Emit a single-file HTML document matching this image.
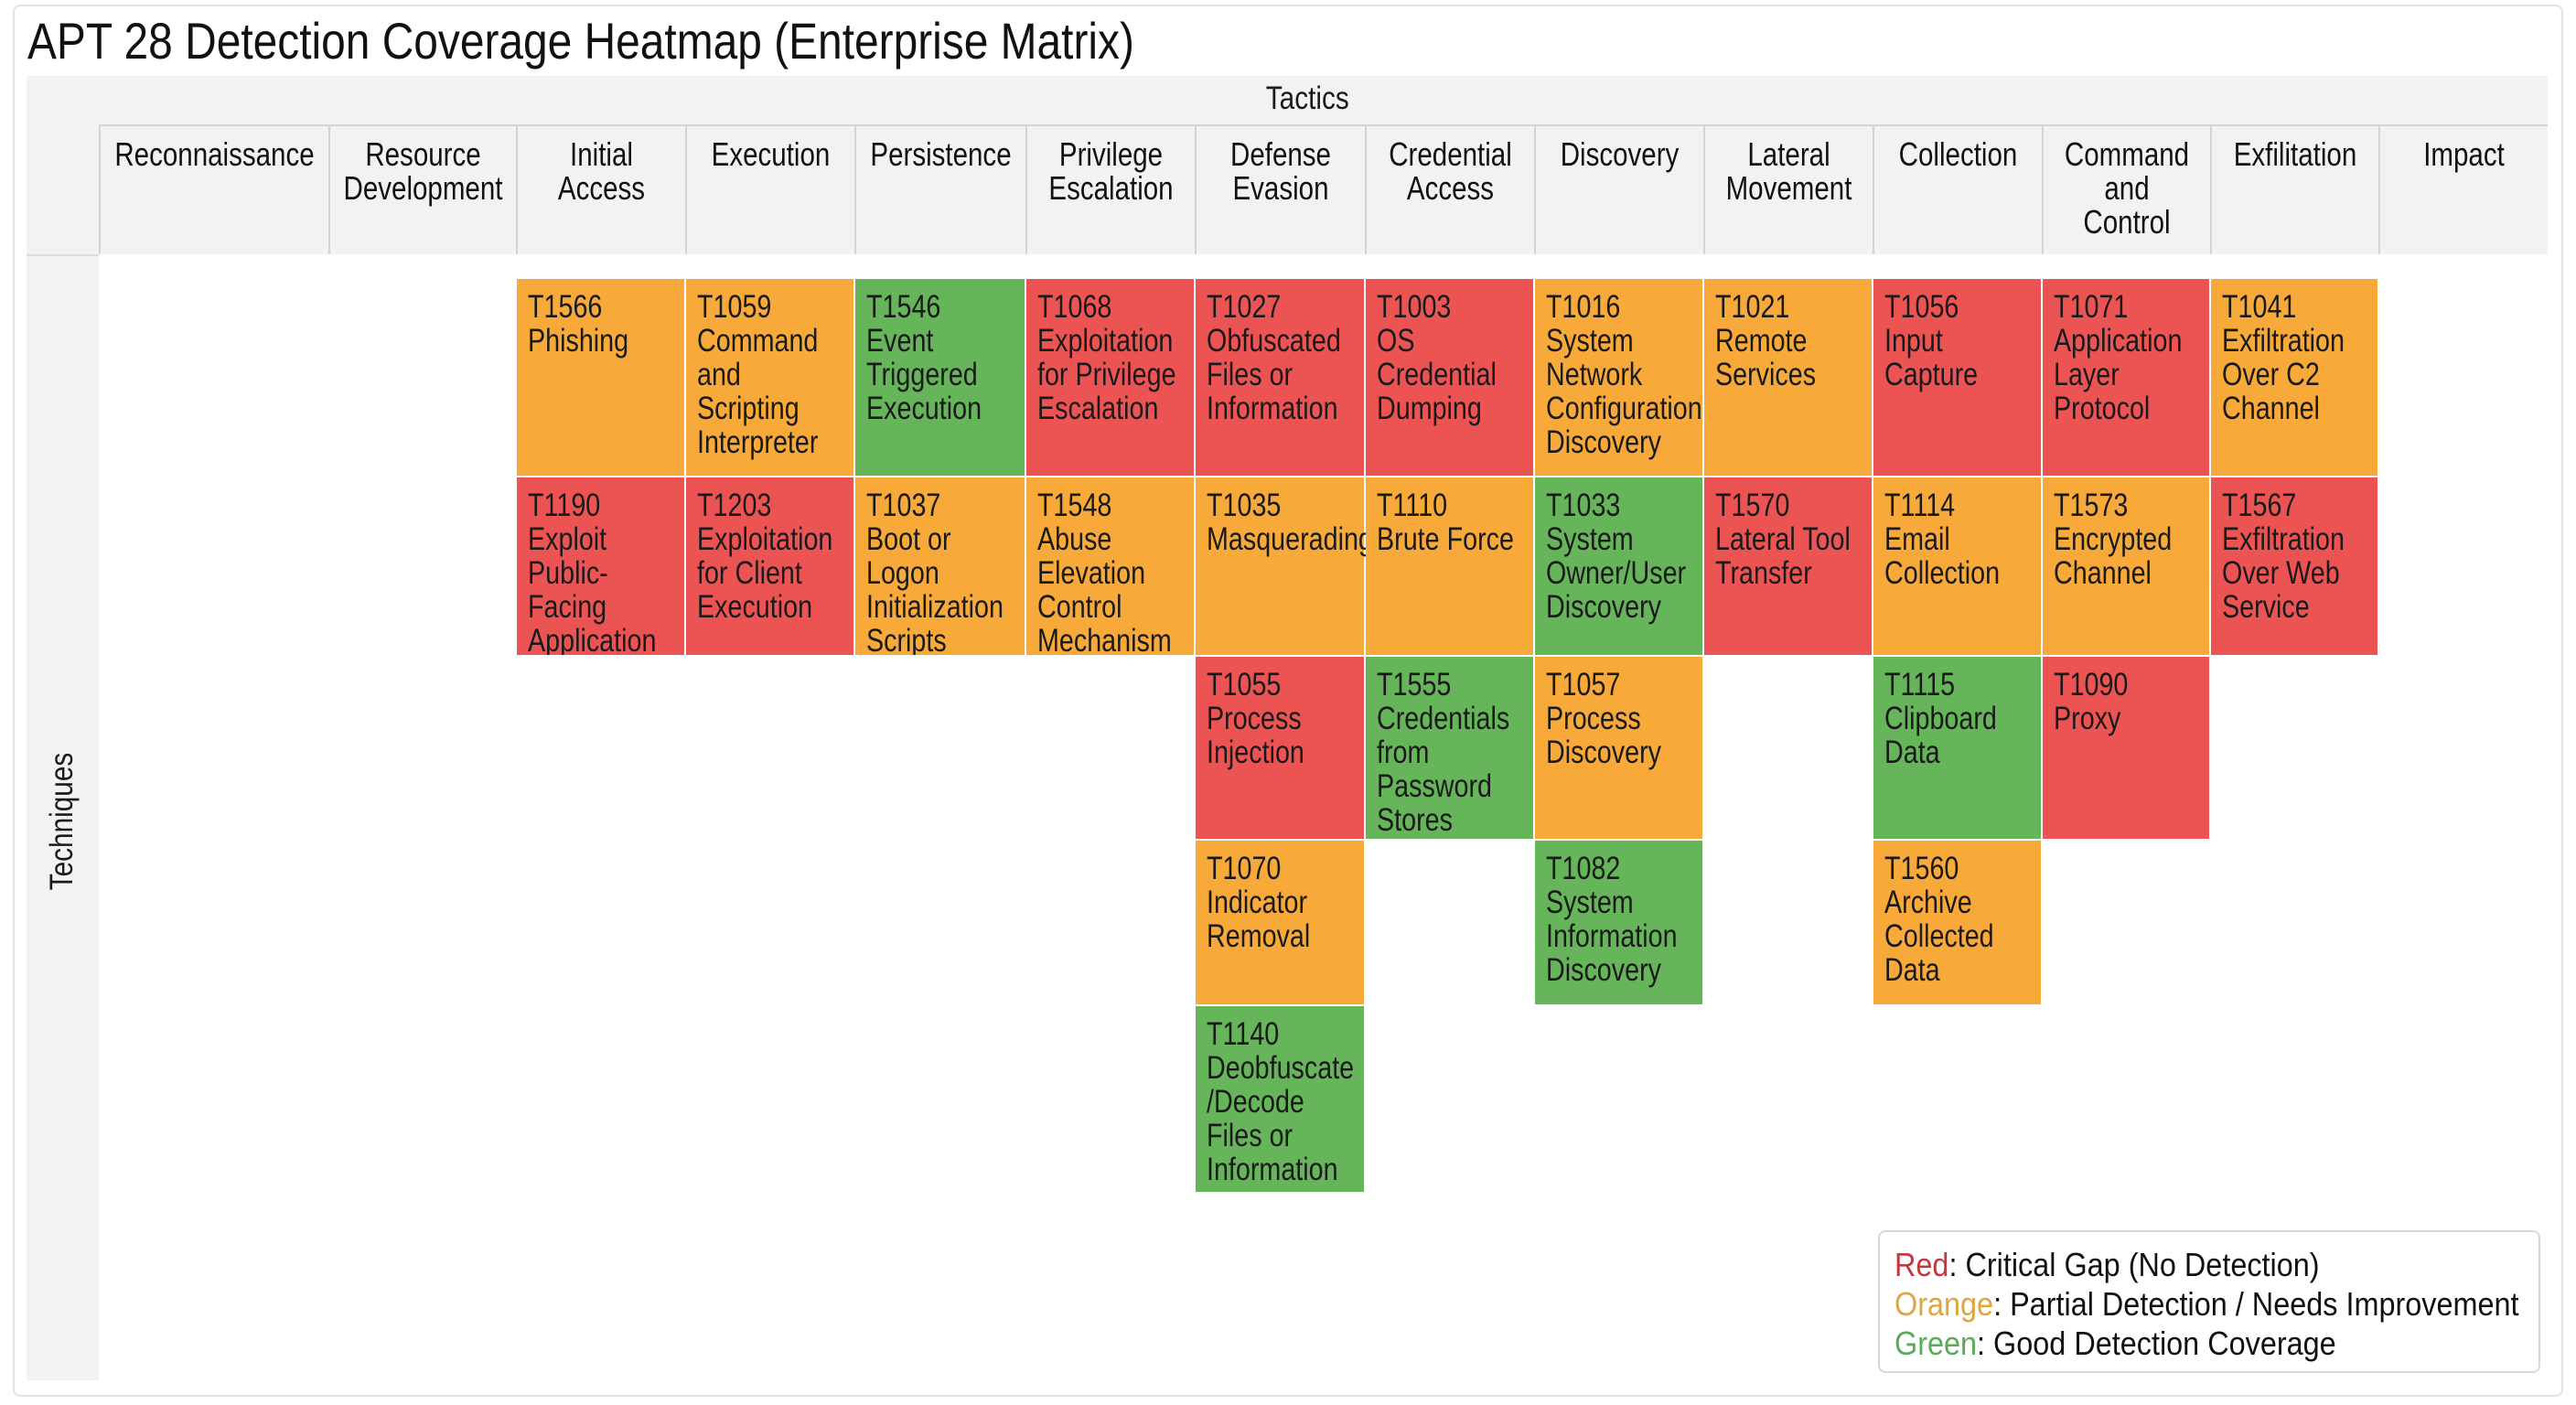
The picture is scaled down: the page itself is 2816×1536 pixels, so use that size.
<!DOCTYPE html>
<html><head><meta charset="utf-8">
<style>
*{margin:0;padding:0;box-sizing:border-box}
body{width:2816px;height:1536px;background:#fff;position:relative;overflow:hidden;font-family:"Liberation Sans",sans-serif;color:#1a1a1a}
.card{position:absolute;left:14px;top:5px;width:2788px;height:1522px;border:2px solid #e2e2e2;border-radius:8px;background:#fff}
.title{position:absolute;left:30px;top:10px;font-size:56px;line-height:70px;color:#111;white-space:nowrap;transform:scaleX(.855);transform-origin:0 0}
.band{position:absolute;left:29px;top:83px;width:2756px;height:195px;background:#f2f2f2}
.lcol{position:absolute;left:29px;top:278px;width:79px;height:1231px;background:#f2f2f2;border-top:2px solid #dcdcdc}
.tactics{position:absolute;left:0;width:2816px;top:88px;text-align:center;font-size:35px;line-height:40px;padding-left:50px;transform:scaleX(.85)}
.hline{position:absolute;left:108px;top:136px;width:2677px;height:2px;background:#d4d4d4}
.h{position:absolute;top:138px;height:140px;border-left:2px solid #d4d4d4;font-size:36px;line-height:37px;padding-top:12px;color:#111;white-space:nowrap}
.h span{display:block;margin:0 -80px;text-align:center;transform:scaleX(.82)}
.tech{position:absolute;left:48px;top:898px;font-size:35px;transform:translate(-50%,-50%) rotate(-90deg) scaleX(.85);transform-origin:center;white-space:nowrap;margin-left:20px}
.c{position:absolute;font-size:35px;line-height:37px;padding:12px 0 0 12px;white-space:nowrap;color:#1a1a1a}
.c span{display:inline-block;transform:scaleX(.82);transform-origin:0 0}
.O{background:#f7a93a}.R{background:#ec5454}.G{background:#66b55a}
.leg{position:absolute;left:2053px;top:1345px;width:724px;height:156px;border:2px solid #d8d8d8;border-radius:8px;background:#fff;font-size:36px;line-height:43px;padding:14px 0 0 16px;white-space:nowrap;color:#111}
.leg div{transform:scaleX(.9);transform-origin:0 0}
</style></head><body>
<div class="card"></div>
<div class="title">APT 28 Detection Coverage Heatmap (Enterprise Matrix)</div>
<div class="band"></div>
<div class="lcol"></div>
<div class="tactics">Tactics</div>
<div class="hline"></div>
<div class="h" style="left:108px;width:251px"><span>Reconnaissance</span></div>
<div class="h" style="left:359px;width:205px"><span>Resource<br>Development</span></div>
<div class="h" style="left:564px;width:185px"><span>Initial<br>Access</span></div>
<div class="h" style="left:749px;width:185px"><span>Execution</span></div>
<div class="h" style="left:934px;width:187px"><span>Persistence</span></div>
<div class="h" style="left:1121px;width:185px"><span>Privilege<br>Escalation</span></div>
<div class="h" style="left:1306px;width:186px"><span>Defense<br>Evasion</span></div>
<div class="h" style="left:1492px;width:185px"><span>Credential<br>Access</span></div>
<div class="h" style="left:1677px;width:185px"><span>Discovery</span></div>
<div class="h" style="left:1862px;width:185px"><span>Lateral<br>Movement</span></div>
<div class="h" style="left:2047px;width:185px"><span>Collection</span></div>
<div class="h" style="left:2232px;width:184px"><span>Command<br>and<br>Control</span></div>
<div class="h" style="left:2416px;width:184px"><span>Exfilitation</span></div>
<div class="h" style="left:2600px;width:185px"><span>Impact</span></div>
<div class="tech">Techniques</div>

<div class="c O" style="left:565px;top:305px;width:183px;height:215px"><span>T1566<br>Phishing</span></div>
<div class="c R" style="left:565px;top:522px;width:183px;height:194px;overflow:hidden"><span>T1190<br>Exploit<br>Public-<br>Facing<br>Application</span></div>
<div class="c O" style="left:750px;top:305px;width:183px;height:215px"><span>T1059<br>Command<br>and<br>Scripting<br>Interpreter</span></div>
<div class="c R" style="left:750px;top:522px;width:183px;height:194px"><span>T1203<br>Exploitation<br>for Client<br>Execution</span></div>
<div class="c G" style="left:935px;top:305px;width:185px;height:215px"><span>T1546<br>Event<br>Triggered<br>Execution</span></div>
<div class="c O" style="left:935px;top:522px;width:185px;height:194px;overflow:hidden"><span>T1037<br>Boot or<br>Logon<br>Initialization<br>Scripts</span></div>
<div class="c R" style="left:1122px;top:305px;width:183px;height:215px"><span>T1068<br>Exploitation<br>for Privilege<br>Escalation</span></div>
<div class="c O" style="left:1122px;top:522px;width:183px;height:194px;overflow:hidden"><span>T1548<br>Abuse<br>Elevation<br>Control<br>Mechanism</span></div>
<div class="c R" style="left:1307px;top:305px;width:184px;height:215px"><span>T1027<br>Obfuscated<br>Files or<br>Information</span></div>
<div class="c O" style="left:1307px;top:522px;width:184px;height:194px"><span>T1035<br>Masquerading</span></div>
<div class="c R" style="left:1307px;top:718px;width:184px;height:199px"><span>T1055<br>Process<br>Injection</span></div>
<div class="c O" style="left:1307px;top:919px;width:184px;height:179px"><span>T1070<br>Indicator<br>Removal</span></div>
<div class="c G" style="left:1307px;top:1100px;width:184px;height:203px"><span>T1140<br>Deobfuscate<br>/Decode<br>Files or<br>Information</span></div>
<div class="c R" style="left:1493px;top:305px;width:183px;height:215px"><span>T1003<br>OS<br>Credential<br>Dumping</span></div>
<div class="c O" style="left:1493px;top:522px;width:183px;height:194px"><span>T1110<br>Brute Force</span></div>
<div class="c G" style="left:1493px;top:718px;width:183px;height:199px"><span>T1555<br>Credentials<br>from<br>Password<br>Stores</span></div>
<div class="c O" style="left:1678px;top:305px;width:183px;height:215px"><span>T1016<br>System<br>Network<br>Configuration<br>Discovery</span></div>
<div class="c G" style="left:1678px;top:522px;width:183px;height:194px"><span>T1033<br>System<br>Owner/User<br>Discovery</span></div>
<div class="c O" style="left:1678px;top:718px;width:183px;height:199px"><span>T1057<br>Process<br>Discovery</span></div>
<div class="c G" style="left:1678px;top:919px;width:183px;height:179px"><span>T1082<br>System<br>Information<br>Discovery</span></div>
<div class="c O" style="left:1863px;top:305px;width:183px;height:215px"><span>T1021<br>Remote<br>Services</span></div>
<div class="c R" style="left:1863px;top:522px;width:183px;height:194px"><span>T1570<br>Lateral Tool<br>Transfer</span></div>
<div class="c R" style="left:2048px;top:305px;width:183px;height:215px"><span>T1056<br>Input<br>Capture</span></div>
<div class="c O" style="left:2048px;top:522px;width:183px;height:194px"><span>T1114<br>Email<br>Collection</span></div>
<div class="c G" style="left:2048px;top:718px;width:183px;height:199px"><span>T1115<br>Clipboard<br>Data</span></div>
<div class="c O" style="left:2048px;top:919px;width:183px;height:179px"><span>T1560<br>Archive<br>Collected<br>Data</span></div>
<div class="c R" style="left:2233px;top:305px;width:182px;height:215px"><span>T1071<br>Application<br>Layer<br>Protocol</span></div>
<div class="c O" style="left:2233px;top:522px;width:182px;height:194px"><span>T1573<br>Encrypted<br>Channel</span></div>
<div class="c R" style="left:2233px;top:718px;width:182px;height:199px"><span>T1090<br>Proxy</span></div>
<div class="c O" style="left:2417px;top:305px;width:182px;height:215px"><span>T1041<br>Exfiltration<br>Over C2<br>Channel</span></div>
<div class="c R" style="left:2417px;top:522px;width:182px;height:194px"><span>T1567<br>Exfiltration<br>Over Web<br>Service</span></div>

<div class="leg"><div><span style="color:#c0393f">Red</span>: Critical Gap (No Detection)<br><span style="color:#e0a53e">Orange</span>: Partial Detection / Needs Improvement<br><span style="color:#5aaa5a">Green</span>: Good Detection Coverage</div></div>
</body></html>
